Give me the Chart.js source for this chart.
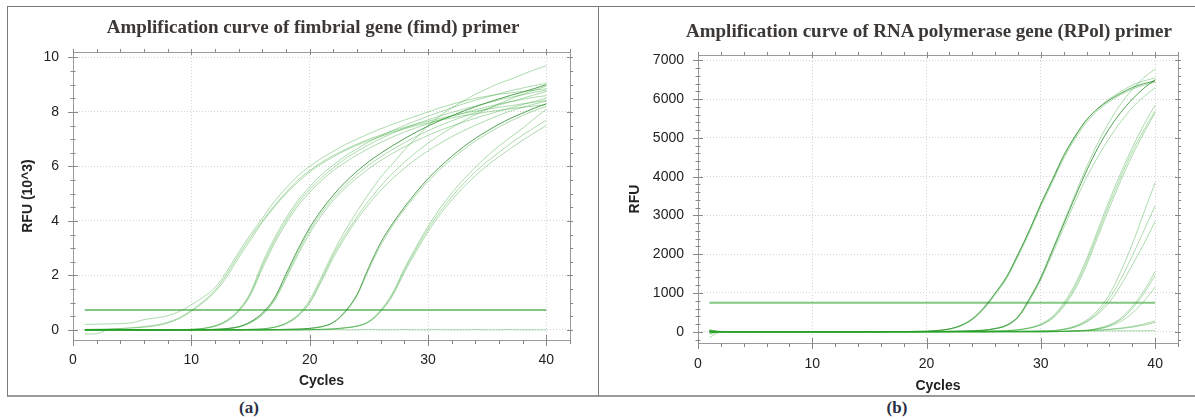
<!DOCTYPE html>
<html>
<head>
<meta charset="utf-8">
<script src="https://cdn.jsdelivr.net/npm/chart.js@4.4.1/dist/chart.umd.min.js"></script>
<style>
  body { margin: 0; background: #fff; }
  #wrap { position: relative; width: 1195px; height: 419px; overflow: hidden; }
  canvas { position: absolute; top: 0; }
  .title, .tag { position: absolute; transform: translate(-50%, -50%); white-space: nowrap;
    font-family: "Liberation Serif", "Times New Roman", serif; font-weight: bold; }
  .title { font-size: 19px; color: #3b3835; }
  .tag { font-size: 17px; color: #2a2f45; }
</style>
</head>
<body>
<div id="wrap">
  <div style="position:absolute;left:7px;top:6px;width:1200px;height:388px;border:1px solid #7a7a7a;border-bottom:2px solid #9a9a9a"></div>
  <div style="position:absolute;left:598px;top:6px;width:1px;height:390px;background:#7a7a7a"></div>
  <canvas id="fimdChart" width="598" height="396" style="left:0"></canvas>
  <canvas id="rpolChart" width="597" height="396" style="left:598px"></canvas>
  <div class="title" style="left:313px;top:27px">Amplification curve of fimbrial gene (fimd) primer</div>
  <div class="title" style="left:929px;top:31px">Amplification curve of RNA polymerase gene (RPol) primer</div>
  <div class="tag" style="left:249px;top:408px">(a)</div>
  <div class="tag" style="left:897px;top:408px">(b)</div>
</div>
<script>
// cycles shared by both runs
const cycles = [
  1, 2, 3, 4, 5, 6, 7, 8, 9, 10,
  11, 12, 13, 14, 15, 16, 17, 18, 19, 20,
  21, 22, 23, 24, 25, 26, 27, 28, 29, 30,
  31, 32, 33, 34, 35, 36, 37, 38, 39, 40
];

// tick labels
const cycleTicks = [0, 10, 20, 30, 40];
const fimdTicks = [0, 2, 4, 6, 8, 10];
const rpolTicks = [0, 1000, 2000, 3000, 4000, 5000, 6000, 7000];

// (a) fimd primer, RFU in 10^3
const fimdThreshold = 0.73;
const fimd1 = [
  0.20, 0.21, 0.22, 0.23, 0.26, 0.38, 0.44, 0.52, 0.68, 0.92,
  1.20, 1.55, 2.15, 2.85, 3.50, 4.10, 4.70, 5.20, 5.65, 6.00,
  6.30, 6.55, 6.80, 7.00, 7.20, 7.38, 7.55, 7.70, 7.85, 8.00,
  8.15, 8.28, 8.40, 8.50, 8.58, 8.65, 8.70, 8.75, 8.80, 8.85
];
const fimd2 = [
  -0.15, -0.14, 0.02, 0.05, 0.08, 0.12, 0.18, 0.28, 0.45, 0.72,
  1.05, 1.45, 2.05, 2.75, 3.40, 4.00, 4.55, 5.05, 5.50, 5.85,
  6.15, 6.40, 6.62, 6.82, 7.00, 7.15, 7.30, 7.43, 7.55, 7.66,
  7.76, 7.86, 7.95, 8.03, 8.10, 8.17, 8.23, 8.30, 8.36, 8.42
];
const fimd3 = [
  0.02, 0.03, 0.04, 0.05, 0.07, 0.10, 0.15, 0.25, 0.42, 0.68,
  1.00, 1.40, 1.95, 2.65, 3.30, 3.95, 4.50, 5.00, 5.42, 5.80,
  6.10, 6.35, 6.58, 6.78, 6.95, 7.10, 7.25, 7.38, 7.50, 7.60,
  7.70, 7.78, 7.86, 7.93, 8.00, 8.06, 8.12, 8.17, 8.22, 8.27
];
const fimd4 = [
  0.00, 0.00, 0.00, 0.00, 0.00, 0.00, 0.00, 0.01, 0.01, 0.02,
  0.06, 0.16, 0.36, 0.74, 1.38, 2.45, 3.35, 4.10, 4.75, 5.25,
  5.70, 6.05, 6.38, 6.65, 6.90, 7.12, 7.32, 7.50, 7.68, 7.84,
  8.00, 8.15, 8.30, 8.43, 8.55, 8.67, 8.78, 8.88, 8.97, 9.05
];
const fimd5 = [
  0.00, 0.00, 0.00, 0.00, 0.00, 0.00, 0.00, 0.01, 0.01, 0.02,
  0.05, 0.14, 0.33, 0.70, 1.32, 2.35, 3.25, 4.00, 4.65, 5.15,
  5.58, 5.95, 6.28, 6.55, 6.80, 7.02, 7.22, 7.40, 7.56, 7.71,
  7.85, 7.98, 8.10, 8.22, 8.33, 8.44, 8.54, 8.63, 8.72, 8.80
];
const fimd6 = [
  0.00, 0.00, 0.00, 0.00, 0.00, 0.00, 0.00, 0.01, 0.01, 0.02,
  0.05, 0.13, 0.31, 0.68, 1.28, 2.25, 3.15, 3.90, 4.55, 5.05,
  5.48, 5.85, 6.15, 6.42, 6.66, 6.88, 7.08, 7.26, 7.42, 7.57,
  7.71, 7.84, 7.96, 8.08, 8.19, 8.29, 8.38, 8.46, 8.54, 8.60
];
const fimd7 = [
  0.00, 0.00, 0.00, 0.00, 0.00, 0.00, 0.00, 0.00, 0.00, 0.00,
  0.01, 0.02, 0.05, 0.12, 0.30, 0.62, 1.15, 2.05, 2.95, 3.75,
  4.40, 4.95, 5.42, 5.82, 6.18, 6.48, 6.76, 7.02, 7.26, 7.48,
  7.68, 7.86, 8.03, 8.19, 8.34, 8.48, 8.61, 8.73, 8.86, 9.00
];
const fimd8 = [
  0.00, 0.00, 0.00, 0.00, 0.00, 0.00, 0.00, 0.00, 0.00, 0.00,
  0.01, 0.02, 0.05, 0.11, 0.28, 0.58, 1.10, 1.95, 2.85, 3.65,
  4.30, 4.85, 5.30, 5.70, 6.05, 6.35, 6.62, 6.87, 7.10, 7.31,
  7.50, 7.67, 7.83, 7.98, 8.12, 8.25, 8.38, 8.50, 8.63, 8.75
];
const fimd9 = [
  0.00, 0.00, 0.00, 0.00, 0.00, 0.00, 0.00, 0.00, 0.00, 0.00,
  0.01, 0.02, 0.04, 0.10, 0.26, 0.55, 1.05, 1.88, 2.75, 3.55,
  4.20, 4.75, 5.20, 5.58, 5.92, 6.22, 6.48, 6.72, 6.94, 7.14,
  7.32, 7.48, 7.63, 7.77, 7.90, 8.03, 8.15, 8.27, 8.39, 8.50
];
const fimd10 = [
  0.00, 0.00, 0.00, 0.00, 0.00, 0.00, 0.00, 0.00, 0.00, 0.00,
  0.00, 0.00, 0.00, 0.01, 0.02, 0.04, 0.10, 0.25, 0.55, 1.10,
  1.95, 2.85, 3.65, 4.35, 5.00, 5.60, 6.10, 6.60, 7.05, 7.50,
  7.85, 8.15, 8.40, 8.65, 8.85, 9.05, 9.20, 9.38, 9.55, 9.70
];
const fimd11 = [
  0.00, 0.00, 0.00, 0.00, 0.00, 0.00, 0.00, 0.00, 0.00, 0.00,
  0.00, 0.00, 0.00, 0.01, 0.02, 0.04, 0.10, 0.24, 0.52, 1.02,
  1.85, 2.75, 3.50, 4.15, 4.75, 5.28, 5.75, 6.15, 6.52, 6.85,
  7.15, 7.42, 7.67, 7.90, 8.10, 8.30, 8.48, 8.65, 8.80, 8.95
];
const fimd12 = [
  0.00, 0.00, 0.00, 0.00, 0.00, 0.00, 0.00, 0.00, 0.00, 0.00,
  0.00, 0.00, 0.00, 0.01, 0.02, 0.03, 0.09, 0.22, 0.50, 0.98,
  1.78, 2.65, 3.40, 4.05, 4.62, 5.12, 5.55, 5.93, 6.27, 6.57,
  6.84, 7.09, 7.31, 7.51, 7.70, 7.88, 8.04, 8.17, 8.29, 8.40
];
const fimd13 = [
  0.00, 0.00, 0.00, 0.00, 0.00, 0.00, 0.00, 0.00, 0.00, 0.00,
  0.00, 0.00, 0.00, 0.00, 0.00, 0.00, 0.01, 0.02, 0.03, 0.06,
  0.12, 0.28, 0.68, 1.30, 2.30, 3.20, 3.90, 4.50, 5.05, 5.55,
  5.98, 6.37, 6.72, 7.03, 7.30, 7.55, 7.77, 7.96, 8.14, 8.30
];
const fimd14 = [
  0.00, 0.00, 0.00, 0.00, 0.00, 0.00, 0.00, 0.00, 0.00, 0.00,
  0.00, 0.00, 0.00, 0.00, 0.00, 0.00, 0.01, 0.02, 0.03, 0.05,
  0.11, 0.26, 0.64, 1.25, 2.22, 3.10, 3.82, 4.42, 4.96, 5.45,
  5.88, 6.27, 6.62, 6.93, 7.20, 7.45, 7.67, 7.87, 8.05, 8.20
];
const fimd15 = [
  0.00, 0.00, 0.00, 0.00, 0.00, 0.00, 0.00, 0.00, 0.00, 0.00,
  0.00, 0.00, 0.00, 0.00, 0.00, 0.00, 0.00, 0.00, 0.00, 0.01,
  0.02, 0.04, 0.08, 0.15, 0.32, 0.72, 1.35, 2.25, 3.05, 3.80,
  4.45, 5.02, 5.52, 5.97, 6.38, 6.75, 7.08, 7.40, 7.76, 8.10
];
const fimd16 = [
  0.00, 0.00, 0.00, 0.00, 0.00, 0.00, 0.00, 0.00, 0.00, 0.00,
  0.00, 0.00, 0.00, 0.00, 0.00, 0.00, 0.00, 0.00, 0.00, 0.01,
  0.02, 0.04, 0.08, 0.14, 0.30, 0.70, 1.30, 2.18, 2.97, 3.70,
  4.33, 4.88, 5.37, 5.80, 6.18, 6.52, 6.85, 7.15, 7.43, 7.70
];
const fimd17 = [
  0.00, 0.00, 0.00, 0.00, 0.00, 0.00, 0.00, 0.00, 0.00, 0.00,
  0.00, 0.00, 0.00, 0.00, 0.00, 0.00, 0.00, 0.00, 0.00, 0.01,
  0.02, 0.03, 0.07, 0.13, 0.28, 0.66, 1.25, 2.10, 2.88, 3.60,
  4.22, 4.76, 5.24, 5.66, 6.03, 6.36, 6.67, 6.96, 7.24, 7.50
];
const fimdNtc = [
  0.01, 0.00, 0.00, 0.01, 0.00, 0.00, 0.01, 0.00, 0.00, 0.01,
  0.00, 0.00, 0.01, 0.00, 0.00, 0.01, 0.00, 0.00, 0.01, 0.00,
  0.00, 0.01, 0.00, 0.00, 0.01, 0.00, 0.00, 0.01, 0.00, 0.00,
  0.01, 0.00, 0.00, 0.01, 0.00, 0.00, 0.01, 0.00, 0.00, 0.00
];

// (b) RPol primer, RFU
const rpolThreshold = 750;
const rpol1 = [
  30, 0, 0, 0, 0, 0, 0, 0, 0, 0,
  0, 0, 0, 0, 0, 0, 5, 5, 10, 15,
  35, 75, 165, 335, 620, 1000, 1420, 2000, 2620, 3300,
  3920, 4550, 5050, 5470, 5760, 5980, 6150, 6300, 6400, 6470
];
const rpol2 = [
  -150, -5, 0, 0, 0, 0, 0, 0, 0, 0,
  0, 0, 0, 0, 0, 0, 5, 5, 8, 12,
  30, 70, 155, 320, 600, 980, 1400, 1980, 2600, 3280,
  3900, 4520, 5030, 5460, 5770, 6010, 6200, 6360, 6470, 6550
];
const rpol3 = [
  10, 0, 0, 0, 0, 0, 0, 0, 0, 0,
  0, 0, 0, 0, 0, 0, 3, 5, 7, 10,
  28, 65, 150, 310, 580, 950, 1370, 1940, 2560, 3230,
  3850, 4470, 4980, 5400, 5710, 5940, 6120, 6260, 6360, 6440
];
const rpol4 = [
  50, 0, 0, 0, 0, 0, 0, 0, 0, 0,
  0, 0, 0, 0, 0, 0, 0, 0, 0, 5,
  8, 12, 18, 25, 45, 90, 180, 400, 860, 1420,
  2120, 2830, 3550, 4250, 4880, 5420, 5880, 6250, 6550, 6780
];
const rpol5 = [
  -30, -5, 0, 0, 0, 0, 0, 0, 0, 0,
  0, 0, 0, 0, 0, 0, 0, 0, 0, 4,
  7, 11, 16, 22, 40, 80, 165, 380, 840, 1390,
  2080, 2780, 3480, 4150, 4750, 5250, 5660, 6000, 6280, 6500
];
const rpol6 = [
  0, 0, 0, 0, 0, 0, 0, 0, 0, 0,
  0, 0, 0, 0, 0, 0, 0, 0, 0, 4,
  6, 10, 15, 20, 38, 75, 155, 360, 800, 1340,
  2000, 2680, 3360, 3980, 4520, 5000, 5420, 5780, 6060, 6300
];
const rpol7 = [
  50, 10, 0, 0, 0, 0, 0, 0, 0, 0,
  0, 0, 0, 0, 0, 0, 0, 0, 0, 0,
  0, 5, 8, 12, 16, 22, 30, 55, 105, 200,
  390, 740, 1230, 1880, 2640, 3400, 4100, 4750, 5330, 5850
];
const rpol8 = [
  20, 0, 0, 0, 0, 0, 0, 0, 0, 0,
  0, 0, 0, 0, 0, 0, 0, 0, 0, 0,
  0, 4, 7, 10, 14, 18, 25, 50, 95, 185,
  360, 690, 1160, 1800, 2550, 3300, 4000, 4650, 5200, 5700
];
const rpol9 = [
  -60, 0, 0, 0, 0, 0, 0, 0, 0, 0,
  0, 0, 0, 0, 0, 0, 0, 0, 0, 0,
  0, 4, 6, 9, 13, 18, 25, 48, 90, 175,
  340, 650, 1100, 1720, 2460, 3200, 3900, 4550, 5120, 5650
];
const rpol10 = [
  0, 0, 0, 0, 0, 0, 0, 0, 0, 0,
  0, 0, 0, 0, 0, 0, 0, 0, 0, 0,
  0, 0, 0, 0, 0, 4, 8, 12, 16, 22,
  30, 70, 150, 300, 560, 960, 1560, 2260, 3060, 3850
];
const rpol11 = [
  0, 0, 0, 0, 0, 0, 0, 0, 0, 0,
  0, 0, 0, 0, 0, 0, 0, 0, 0, 0,
  0, 0, 0, 0, 0, 3, 7, 10, 14, 19,
  25, 60, 130, 270, 500, 860, 1360, 1960, 2600, 3250
];
const rpol12 = [
  0, 0, 0, 0, 0, 0, 0, 0, 0, 0,
  0, 0, 0, 0, 0, 0, 0, 0, 0, 0,
  0, 0, 0, 0, 0, 3, 6, 9, 12, 16,
  20, 55, 120, 250, 460, 760, 1200, 1720, 2260, 2850
];
const rpol13 = [
  0, 0, 0, 0, 0, 0, 0, 0, 0, 0,
  0, 0, 0, 0, 0, 0, 0, 0, 0, 0,
  0, 0, 0, 0, 0, 0, 0, 0, 0, 0,
  5, 12, 25, 40, 90, 180, 350, 650, 1050, 1550
];
const rpol14 = [
  0, 0, 0, 0, 0, 0, 0, 0, 0, 0,
  0, 0, 0, 0, 0, 0, 0, 0, 0, 0,
  0, 0, 0, 0, 0, 0, 0, 0, 0, 0,
  4, 10, 22, 35, 80, 160, 320, 600, 980, 1450
];
const rpol15 = [
  0, 0, 0, 0, 0, 0, 0, 0, 0, 0,
  0, 0, 0, 0, 0, 0, 0, 0, 0, 0,
  0, 0, 0, 0, 0, 0, 0, 0, 0, 0,
  3, 8, 18, 30, 70, 140, 270, 480, 780, 1150
];
const rpol16 = [
  0, 0, 0, 0, 0, 0, 0, 0, 0, 0,
  0, 0, 0, 0, 0, 0, 0, 0, 0, 0,
  0, 0, 0, 0, 0, 0, 0, 0, 0, 0,
  3, 8, 20, 30, 45, 65, 95, 140, 200, 280
];
const rpol17 = [
  0, 0, 0, 0, 0, 0, 0, 0, 0, 0,
  0, 0, 0, 0, 0, 0, 0, 0, 0, 0,
  0, 0, 0, 0, 0, 0, 0, 0, 0, 0,
  2, 6, 15, 25, 40, 58, 82, 118, 170, 240
];
const rpolNtc = [
  20, 5, 5, 5, 5, 5, 5, 5, 5, 5,
  5, 5, 5, 5, 5, 5, 5, 5, 5, 8,
  8, 8, 8, 10, 10, 10, 12, 12, 12, 15,
  15, 15, 18, 18, 20, 22, 24, 26, 28, 30
];

const lightGreen = 'rgba(40,160,40,0.38)';
const darkGreen = 'rgba(25,130,25,0.75)';
const thresholdGreen = 'rgba(50,160,50,0.6)';
const axisFont = { family: '"Liberation Sans", Arial, sans-serif', size: 14 };
const titleFont = { family: '"Liberation Sans", Arial, sans-serif', size: 14, weight: 'bold' };

function curve(vals, dark) {
  return {
    data: vals.map((v, i) => ({ x: cycles[i], y: v })),
    borderColor: dark ? darkGreen : lightGreen,
    borderWidth: 1,
    pointRadius: 0,
    cubicInterpolationMode: 'monotone',
    fill: false
  };
}

function thresholdLine(t) {
  return {
    data: [{ x: cycles[0], y: t }, { x: cycles[cycles.length - 1], y: t }],
    borderColor: thresholdGreen,
    borderWidth: 2,
    pointRadius: 0,
    fill: false
  };
}

// box round the plot with minor / major tick marks
const frameTicks = {
  id: 'frameTicks',
  afterDraw(chart, args, o) {
    const { ctx, chartArea: a, scales: { x, y } } = chart;
    ctx.save();
    ctx.strokeStyle = '#9a9a9a';
    ctx.lineWidth = 1;
    ctx.strokeRect(Math.round(a.left) + 0.5, Math.round(a.top) + 0.5,
      Math.round(a.right - a.left), Math.round(a.bottom - a.top));
    ctx.strokeStyle = '#888';
    ctx.beginPath();
    for (let i = 0; i * o.xMinor <= x.max; i++) {
      const v = i * o.xMinor;
      const px = Math.round(x.getPixelForValue(v)) + 0.5;
      const major = i % o.xEvery === 0;
      ctx.moveTo(px, a.bottom + (major ? -5 : 0));
      ctx.lineTo(px, a.bottom + (major ? 6 : 4));
      ctx.moveTo(px, a.top + (major ? 3 : 0));
      ctx.lineTo(px, a.top - 3);
    }
    const first = Math.ceil(y.min / o.yMinor);
    for (let i = first; i * o.yMinor <= y.max; i++) {
      const py = Math.round(y.getPixelForValue(i * o.yMinor)) + 0.5;
      const major = i % o.yEvery === 0;
      const l = major ? 5 : 2.5;
      ctx.moveTo(a.left - l, py);
      ctx.lineTo(a.left + l, py);
      ctx.moveTo(a.right - (major ? 3 : 0), py);
      ctx.lineTo(a.right + 3, py);
    }
    ctx.stroke();
    ctx.restore();
  }
};

function makeChart(id, datasets, c) {
  return new Chart(document.getElementById(id), {
    type: 'line',
    data: { datasets },
    plugins: [frameTicks],
    options: {
      responsive: false,
      animation: false,
      devicePixelRatio: 1,
      layout: { padding: { top: c.padTop, right: c.padRight, left: 0, bottom: 0 } },
      plugins: {
        legend: { display: false },
        tooltip: { enabled: false },
        frameTicks: { xMinor: 2, xEvery: 5, yMinor: c.yMinor, yEvery: c.yEvery }
      },
      scales: {
        x: {
          type: 'linear', min: 0, max: 42,
          afterBuildTicks(s) { s.ticks = cycleTicks.map(v => ({ value: v })); },
          ticks: { padding: c.xTickPad, font: axisFont, color: '#222', callback: v => String(v) },
          grid: { color: '#d4d4d4', drawTicks: false },
          border: { display: false, dash: [1, 2] },
          title: { display: true, text: 'Cycles', font: titleFont, color: '#222', padding: { top: 0, bottom: c.xTitlePad } },
          afterFit(s) { s.height = c.xHeight; }
        },
        y: {
          type: 'linear', min: c.yMin, max: c.yMax,
          afterBuildTicks(s) { s.ticks = c.yTicks.map(v => ({ value: v })); },
          ticks: { padding: c.yTickPad, font: axisFont, color: '#222', callback: v => String(v) },
          grid: { color: '#d4d4d4', drawTicks: false },
          border: { display: false, dash: [1, 2] },
          title: { display: true, text: c.yTitle, font: titleFont, color: '#222', padding: { top: c.yTitlePad, bottom: 0 } },
          afterFit(s) { s.width = c.yWidth; }
        }
      }
    }
  });
}

makeChart('fimdChart', [
  curve(fimdNtc), curve(fimd1), curve(fimd2), curve(fimd3), curve(fimd4), curve(fimd5), curve(fimd6),
  curve(fimd8), curve(fimd9), curve(fimd10), curve(fimd11), curve(fimd12), curve(fimd14),
  curve(fimd15), curve(fimd16), curve(fimd17), curve(fimd7, true), curve(fimd13, true),
  thresholdLine(fimdThreshold)
], {
  yMin: -0.37, yMax: 10.2, yTicks: fimdTicks, yMinor: 0.5, yEvery: 4, yTitle: 'RFU (10^3)',
  padTop: 52, padRight: 28, yWidth: 73, xHeight: 56,
  xTickPad: 12, yTickPad: 14, xTitlePad: 6, yTitlePad: 20
});

makeChart('rpolChart', [
  curve(rpolNtc), curve(rpol2), curve(rpol3), curve(rpol4), curve(rpol6), curve(rpol7), curve(rpol8),
  curve(rpol9), curve(rpol10), curve(rpol11), curve(rpol12), curve(rpol13), curve(rpol14),
  curve(rpol15), curve(rpol16), curve(rpol17), curve(rpol1, true), curve(rpol5, true),
  thresholdLine(rpolThreshold)
], {
  yMin: -290, yMax: 7140, yTicks: rpolTicks, yMinor: 200, yEvery: 5, yTitle: 'RFU',
  padTop: 55, padRight: 17, yWidth: 100, xHeight: 53,
  xTickPad: 13, yTickPad: 14, xTitlePad: 1, yTitlePad: 29
});
</script>
</body>
</html>
